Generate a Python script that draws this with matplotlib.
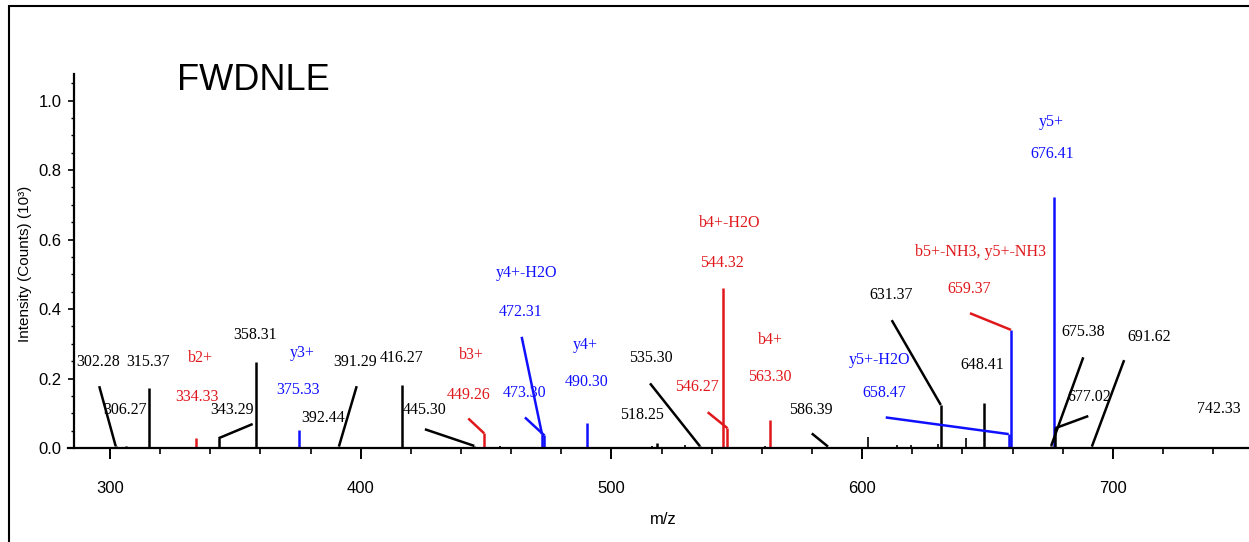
"""
Annotated MS/MS spectrum of the peptide FWDNLE (b ions red, y ions blue).
"""
import matplotlib
matplotlib.use('Agg')
import matplotlib.pyplot as plt
from matplotlib.patches import Rectangle
from matplotlib.ticker import MultipleLocator

# ── Data ─────────────────────────────────────────────────────────────
peptide = 'FWDNLE'

peak_mz = [302.28, 306.27, 315.37, 334.33, 343.29, 358.31, 375.33, 391.29,
           392.44, 416.27, 445.30, 449.26, 472.31, 473.30, 490.30, 518.25,
           535.30, 544.32, 546.27, 563.30, 586.39, 631.37, 648.41, 658.47,
           659.37, 675.38, 676.41, 677.02, 691.62, 742.33]
peak_int = [0.005, 0.005, 0.174, 0.028, 0.028, 0.247, 0.052, 0.004,
            0.004, 0.181, 0.006, 0.042, 0.040, 0.036, 0.071, 0.013,
            0.005, 0.460, 0.057, 0.081, 0.004, 0.124, 0.129, 0.040,
            0.340, 0.006, 0.723, 0.057, 0.004, 0.003]
peak_ion = ['', '', '', 'b2+', '', '', 'y3+', '',
            '', '', '', 'b3+', 'y4+-H2O', '', 'y4+', '',
            '', 'b4+-H2O', '', 'b4+', '', '', '', 'y5+-H2O',
            'b5+-NH3, y5+-NH3', '', 'y5+', '', '', '']
# b = b-ion series, y = y-ion series, by = shared (b label on y peak)
peak_type = ['', '', '', 'b', '', '', 'y', '',
             '', '', '', 'b', 'y', 'y', 'y', '',
             '', 'b', 'b', 'b', '', '', '', 'y',
             'by', '', 'y', '', '', '']

# small unlabelled peaks
minor_mz = [331.2, 386.4, 455.6, 484.6, 516.0, 529.4, 561.3, 602.2,
            613.8, 619.4, 630.4, 641.3]
minor_int = [0.004, 0.004, 0.006, 0.004, 0.006, 0.008, 0.005, 0.033,
             0.010, 0.008, 0.012, 0.028]

# ── Annotation layout (m/z, intensity of text centres / leader ends) ─
layout = {
    302.28: dict(txt=(295.2, 0.248), lead=(295.7, 0.178)),
    306.27: dict(txt=(306.0, 0.109)),
    315.37: dict(txt=(315.2, 0.248)),
    334.33: dict(txt=(334.7, 0.147), ion=(335.9, 0.259)),
    343.29: dict(txt=(348.5, 0.109), lead=(356.9, 0.069)),
    358.31: dict(txt=(357.8, 0.325)),
    375.33: dict(txt=(375.0, 0.167), ion=(376.5, 0.273)),
    391.29: dict(txt=(397.7, 0.248), lead=(398.4, 0.178)),
    392.44: dict(txt=(385.0, 0.086)),
    416.27: dict(txt=(416.4, 0.259)),
    445.30: dict(txt=(425.6, 0.109), lead=(425.6, 0.054)),
    449.26: dict(txt=(442.9, 0.153), ion=(444.3, 0.268), lead=(442.9, 0.085)),
    472.31: dict(txt=(463.8, 0.392), ion=(466.2, 0.503), lead=(464.2, 0.320)),
    473.30: dict(txt=(465.5, 0.159), lead=(465.5, 0.088)),
    490.30: dict(txt=(490.2, 0.191), ion=(489.5, 0.296)),
    518.25: dict(txt=(512.1, 0.095)),
    535.30: dict(txt=(515.7, 0.258), lead=(515.4, 0.186)),
    544.32: dict(txt=(544.0, 0.532), ion=(547.0, 0.647)),
    546.27: dict(txt=(534.0, 0.176), lead=(538.4, 0.103)),
    563.30: dict(txt=(563.3, 0.205), ion=(563.3, 0.311)),
    586.39: dict(txt=(579.5, 0.109), lead=(579.9, 0.042)),
    631.37: dict(txt=(611.4, 0.440), lead=(611.8, 0.368)),
    648.41: dict(txt=(648.1, 0.239)),
    658.47: dict(txt=(608.7, 0.157), ion=(606.9, 0.253), lead=(609.4, 0.088)),
    659.37: dict(txt=(642.6, 0.458), ion=(647.3, 0.565), lead=(643.0, 0.388)),
    675.38: dict(txt=(688.0, 0.335), lead=(688.2, 0.261)),
    676.41: dict(txt=(675.9, 0.846), ion=(675.4, 0.939)),
    677.02: dict(txt=(690.6, 0.148), lead=(690.2, 0.092)),
    691.62: dict(txt=(714.4, 0.319), lead=(704.5, 0.253)),
    742.33: dict(txt=(742.1, 0.111)),
}

RED = '#e0181c'
BLUE = '#1010ff'
label_colour = {'': 'black', 'b': RED, 'y': BLUE, 'by': RED}
line_colour = {'': 'black', 'b': RED, 'y': BLUE, 'by': BLUE}

SANS = 'Liberation Sans'
SERIF = 'Liberation Serif'

# ── Figure ───────────────────────────────────────────────────────────
W, H = 1249, 542
fig = plt.figure(figsize=(W / 100, H / 100), dpi=100)
fig.patch.set_facecolor('white')

# outer frame of the original figure
fig.add_artist(Rectangle((8.5 / W, -0.05), 1.2, 1 - 6 / H + 0.05,
                         transform=fig.transFigure, fill=False,
                         edgecolor='black', linewidth=1.5))

ax = fig.add_axes((68 / W, 1 - 448 / H, (W - 68) / W, (448 - 74) / H))
ax.set_xlim(283.25, 754.3)
ax.set_ylim(0, 1.0766)
ax.spines['top'].set_visible(False)
ax.spines['right'].set_visible(False)
ax.spines['left'].set_position(('data', 285.6))
for s in ('left', 'bottom'):
    ax.spines[s].set_linewidth(1.6)

ax.xaxis.set_major_locator(MultipleLocator(100))
ax.xaxis.set_minor_locator(MultipleLocator(20))
ax.yaxis.set_major_locator(MultipleLocator(0.2))
ax.yaxis.set_minor_locator(MultipleLocator(0.05))
ax.yaxis.set_major_formatter(lambda v, pos: f'{v:.1f}')
ax.tick_params(axis='x', which='major', length=8, width=1.4, pad=16, labelsize=12)
ax.tick_params(axis='x', which='minor', length=4.5, width=1.2)
ax.tick_params(axis='y', which='major', length=4, width=1.2, pad=5, labelsize=12)
ax.tick_params(axis='y', which='minor', length=2.5, width=1.0)
for lab in ax.get_xticklabels() + ax.get_yticklabels():
    lab.set_family(SANS)

ax.set_xlabel('m/z', family=SANS, fontsize=12, va='center')
ax.xaxis.set_label_coords(0.504, -0.19)
ax.set_ylabel('Intensity (Counts) (10³)', family=SANS, fontsize=11,
              va='center', ha='center')
ax.yaxis.set_label_coords(-0.036, 0.492)

# peaks
ax.vlines(minor_mz, 0, minor_int, colors='black', linewidth=1.2)
for mz, inten, kind in zip(peak_mz, peak_int, peak_type):
    ax.vlines(mz, 0, inten, colors=line_colour[kind], linewidth=1.8)

# annotations
for mz, inten, ion, kind in zip(peak_mz, peak_int, peak_ion, peak_type):
    lay = layout[mz]
    col = label_colour[kind]
    if 'lead' in lay:
        lx, ly = lay['lead']
        ax.plot([mz, lx], [inten, ly], color=col, linewidth=1.8,
                solid_capstyle='butt')
    tx, ty = lay['txt']
    ax.text(tx, ty, f'{mz:.2f}', color=col, family=SERIF, fontsize=11.5,
            ha='center', va='center')
    if ion:
        ix, iy = lay['ion']
        ax.text(ix, iy, ion, color=col, family=SERIF, fontsize=11.5,
                ha='center', va='center')

fig.text(177 / W, 1 - 90 / H, peptide, family=SANS, fontsize=26,
         ha='left', va='baseline')

fig.savefig('out.png', dpi=100)
